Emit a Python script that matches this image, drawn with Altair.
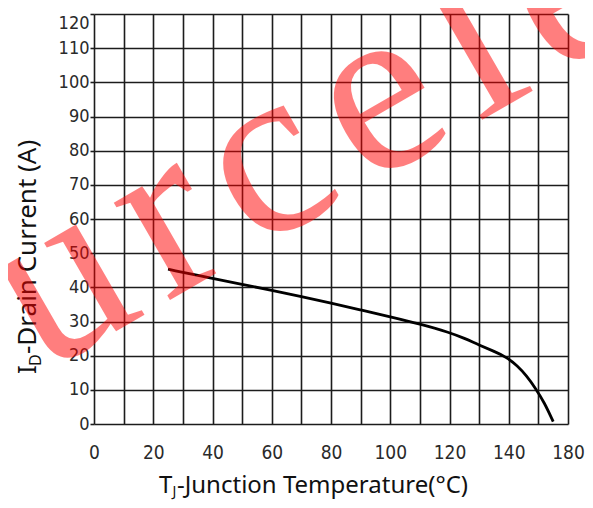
import altair as alt
import pandas as pd

temp_c = [25, 40, 50, 60, 70, 80, 90, 100, 110, 120, 125, 130, 135, 139, 143, 146, 149, 152, 155]
drain_a = [45.3, 42.6, 40.9, 39.1, 37.3, 35.4, 33.4, 31.4, 29.3, 26.8, 25.1, 23.1, 21.3, 19.7, 17.0, 14.1, 10.5, 6.3, 0.7]

x_grid_values = list(range(0, 161, 10))
x_tick_values = [0, 20, 40, 60, 80, 100, 120, 140, 160]
x_tick_labels = ["0", "20", "40", "60", "80", "100", "120", "140", "180"]
y_grid_values = list(range(0, 121, 10))

x_title_parts = ["T", "J", "-Junction Temperature(°C)"]
y_title_parts = ["I", "D", "-Drain Current (A)"]
watermark_text = "\u200a".join("urcele")

W, H = 474, 410
GRID = "#1c1c1c"
LABEL_FONT = "Liberation Sans Narrow, DejaVu Sans Condensed, Liberation Sans"
TITLE_FONT = "Noto Sans"

df = pd.DataFrame({"t": temp_c, "i": drain_a})

# label expression: only every 20 is labelled, last grid line carries "180"
expr = "''"
for v, lab in zip(reversed(x_tick_values), reversed(x_tick_labels)):
    expr = f"datum.value == {v} ? '{lab}' : ({expr})"

x_axis = alt.Axis(
    values=x_grid_values, grid=True, gridColor=GRID, gridWidth=1.6, gridOpacity=1,
    domain=False, ticks=False, labelExpr=expr, labelFont=LABEL_FONT, labelFontSize=19,
    labelColor="#2a2a2a", labelPadding=19, labelFlush=False, labelOverlap=False,
    labelBaseline="top", title=None,
)
y_axis = alt.Axis(
    values=y_grid_values, grid=True, gridColor=GRID, gridWidth=1.6, gridOpacity=1,
    domain=False, ticks=True, tickSize=4, tickColor=GRID, tickWidth=1.6,
    labelFont=LABEL_FONT, labelFontSize=18, labelColor="#2a2a2a", labelPadding=1,
    labelOverlap=False,
    labelBaseline={"condition": {"test": "datum.value == 120", "value": "top"}, "value": "middle"},
    title=None,
)

base = alt.Chart(df)
curve = base.mark_line(color="black", strokeWidth=2.8, interpolate="basis").encode(
    x=alt.X("t:Q", scale=alt.Scale(domain=[0, 160], nice=False, zero=False), axis=x_axis),
    y=alt.Y("i:Q", scale=alt.Scale(domain=[0, 120], nice=False), axis=y_axis),
)

one = pd.DataFrame({"k": [0]})

def txt(s, x, y, size, angle=0, color="#111111", font=TITLE_FONT, opacity=1.0):
    return alt.Chart(one).mark_text(
        text=s, font=font, fontSize=size, align="left", baseline="alphabetic",
        angle=angle, color=color, opacity=opacity,
    ).encode(x=alt.value(x), y=alt.value(y))

# x title with subscript J
xt = [
    txt(x_title_parts[0], 65, 479, 24),
    txt(x_title_parts[1], 78.5, 482, 14),
    txt(x_title_parts[2], 83, 479, 24),
]
# y title with subscript D (rotated, reading upward)
yt = [
    txt(y_title_parts[0], -58, 360, 26, angle=270),
    txt(y_title_parts[1], -53, 352, 16, angle=270),
    txt(y_title_parts[2], -58, 340, 26, angle=270),
]
wm = txt(watermark_text, -52, 360, 245, angle=330, color="#ff0000",
         font="Liberation Serif", opacity=0.5)

chart = alt.layer(curve, *xt, *yt, wm).properties(
    width=W, height=H,
    autosize=alt.AutoSizeParams(type="none"),
    padding={"left": 86, "top": 6, "right": 17, "bottom": 76},
    background="white",
).configure_view(strokeWidth=0)

chart.save("out.html", embed_options={"renderer": "svg", "actions": False})
